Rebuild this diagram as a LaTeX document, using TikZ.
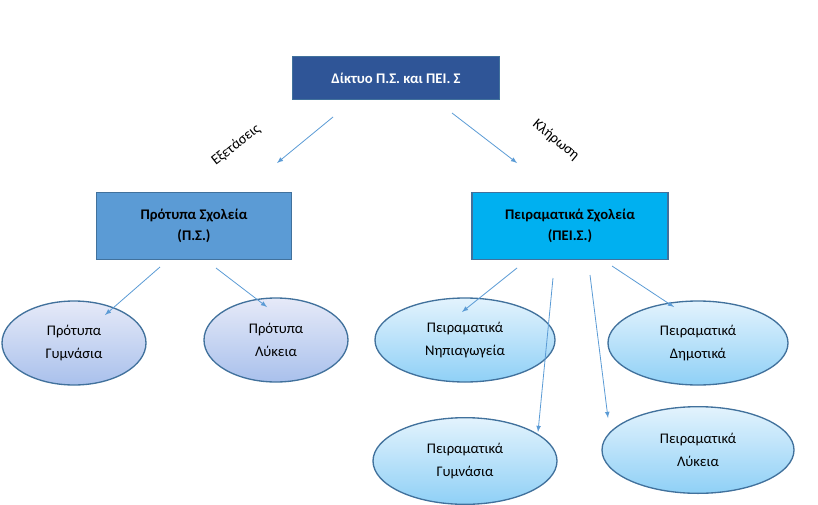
\documentclass[tikz,border=0pt]{standalone}
\usepackage{fontspec}
\setmainfont{Carlito}
\usetikzlibrary{shapes.geometric}
\definecolor{topblue}{HTML}{2F5597}
\definecolor{midblue}{HTML}{5B9BD5}
\definecolor{cyanbox}{HTML}{00B0F0}
\definecolor{edgeblue}{HTML}{41719C}
\definecolor{arrowblue}{HTML}{5B9BD5}
\definecolor{lavtop}{HTML}{E6EAF8}
\definecolor{lavbot}{HTML}{A9C0EC}
\definecolor{skytop}{HTML}{E3F3FD}
\definecolor{skybot}{HTML}{8FD0F6}
\tikzset{
  box/.style={draw=edgeblue,line width=1pt,align=center,font=\fontsize{11}{13}\selectfont\bfseries},
  oval/.style={ellipse,draw=edgeblue,line width=1pt,align=center,font=\fontsize{11}{13}\selectfont,inner sep=0pt},
  lavoval/.style={oval,top color=lavtop,bottom color=lavbot},
  skyoval/.style={oval,top color=skytop,bottom color=skybot},
  link/.style={arrowblue,line width=0.6pt,-latex},
}
\begin{document}
\begin{tikzpicture}[x=0.75pt,y=-0.75pt]
\useasboundingbox (0,0) rectangle (818,504);
% boxes
\node[box,fill=topblue,text=white,minimum width=155pt,minimum height=32pt] (net) at (396,78) {Δίκτυο Π.Σ. και ΠΕΙ. Σ};
\node[box,fill=midblue,minimum width=146pt,minimum height=50pt] (ps) at (194,226) {Πρότυπα Σχολεία\\[3pt](Π.Σ.)};
\node[box,fill=cyanbox,minimum width=147pt,minimum height=50pt] (peis) at (570,226) {Πειραματικά Σχολεία\\[3pt](ΠΕΙ.Σ.)};
% ovals
\node[lavoval,minimum width=108pt,minimum height=63pt] (gym1) at (74,343) {Πρότυπα\\[4pt]Γυμνάσια};
\node[lavoval,minimum width=108pt,minimum height=63pt] (lyk1) at (276,340) {Πρότυπα\\[4pt]Λύκεια};
\node[skyoval,minimum width=135pt,minimum height=63pt] (nip) at (465,340) {Πειραματικά\\[4pt]Νηπιαγωγεία};
\node[skyoval,minimum width=135pt,minimum height=63pt] (dim) at (698,343) {Πειραματικά\\[4pt]Δημοτικά};
\node[skyoval,minimum width=138pt,minimum height=65pt] (gym2) at (465,461) {Πειραματικά\\[4pt]Γυμνάσια};
\node[skyoval,minimum width=144pt,minimum height=65pt] (lyk2) at (698,450) {Πειραματικά\\[4pt]Λύκεια};
% arrow ends
\coordinate (a1) at (333,117); \coordinate (b1) at (277,163);
\coordinate (a2) at (452,113); \coordinate (b2) at (517,163);
\coordinate (a3) at (160,267); \coordinate (b3) at (105,315);
\coordinate (a4) at (216,268); \coordinate (b4) at (267,307);
\coordinate (a5) at (517,268); \coordinate (b5) at (462,312);
\coordinate (a6) at (612,266); \coordinate (b6) at (674,307);
\coordinate (a7) at (553,278); \coordinate (b7) at (538,432);
\coordinate (a8) at (590,275); \coordinate (b8) at (608,418);
\foreach \i in {1,...,8} \draw[link] (a\i) -- (b\i);
\node[rotate=38,font=\fontsize{11}{13}\selectfont] (exam) at (236,145) {Εξετάσεις};
\node[rotate=-40,font=\fontsize{11}{13}\selectfont] (lot) at (556,140) {Κλήρωση};
\end{tikzpicture}
\end{document}
